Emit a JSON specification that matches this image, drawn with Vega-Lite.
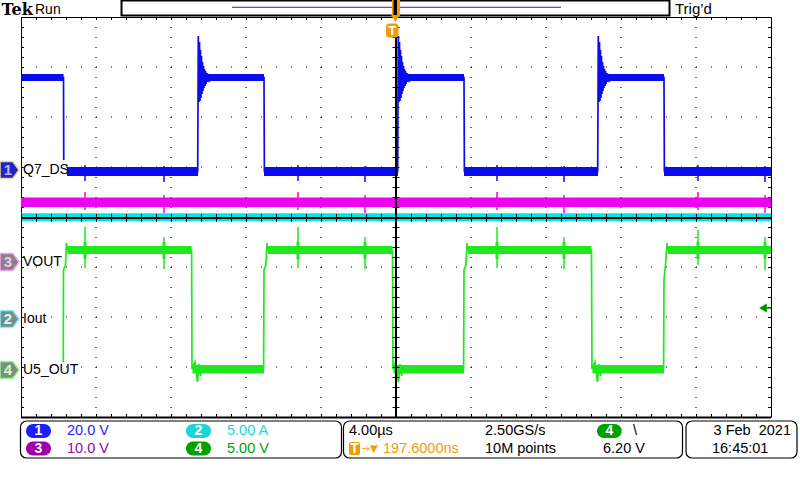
{
  "$schema": "https://vega.github.io/schema/vega-lite/v6.json",
  "width": 750,
  "height": 400,
  "autosize": {"type": "none"},
  "padding": {"left": 21, "top": 17, "right": 29, "bottom": 63},
  "background": "#ffffff",
  "config": {
    "view": {"stroke": "#000000", "strokeWidth": 1}
  },
  "layer": [
    {
      "data": {"values": [{"t": -16}, {"t": -12}, {"t": -8}, {"t": -4}, {"t": 4}, {"t": 8}, {"t": 12}, {"t": 16}]},
      "mark": {"type": "rule", "strokeWidth": 1.2, "strokeDash": [1, 9], "color": "#000000"},
      "encoding": {
        "x": {"field": "t", "type": "quantitative", "scale": {"domain": [-20, 20], "nice": false, "zero": false}, "axis": null},
        "y": {"datum": 4, "type": "quantitative", "scale": {"domain": [-4, 4], "nice": false, "zero": false}, "axis": null},
        "y2": {"datum": -4}
      }
    },
    {
      "data": {"values": [{"v": -3}, {"v": -2}, {"v": -1}, {"v": 1}, {"v": 2}, {"v": 3}]},
      "mark": {"type": "rule", "strokeWidth": 1.2, "strokeDash": [1, 14], "color": "#000000"},
      "encoding": {
        "x": {"datum": -20, "type": "quantitative", "axis": null},
        "x2": {"datum": 20},
        "y": {"field": "v", "type": "quantitative", "axis": null}
      }
    },
    {
      "data": {"values": [{"t": -20, "t2": 20, "v": 3.97}, {"t": -20, "t2": 20, "v": -3.97}]},
      "mark": {"type": "rule", "strokeWidth": 3, "strokeDash": [1, 14], "color": "#000000"},
      "encoding": {
        "x": {"field": "t", "type": "quantitative", "axis": null},
        "x2": {"field": "t2"},
        "y": {"field": "v", "type": "quantitative", "axis": null}
      }
    },
    {
      "data": {"values": [{"t": -19.92, "v": 4, "v2": -4}, {"t": 19.92, "v": 4, "v2": -4}]},
      "mark": {"type": "rule", "strokeWidth": 3, "strokeDash": [1, 9], "color": "#000000"},
      "encoding": {
        "x": {"field": "t", "type": "quantitative", "axis": null},
        "y": {"field": "v", "type": "quantitative", "axis": null},
        "y2": {"field": "v2"}
      }
    },
    {
      "data": {"values": [{"t": -20, "t2": 20, "v": -4.01}]},
      "mark": {"type": "rule", "strokeWidth": 2, "color": "#000000"},
      "encoding": {
        "x": {"field": "t", "type": "quantitative", "axis": null},
        "x2": {"field": "t2"},
        "y": {"field": "v", "type": "quantitative", "axis": null}
      }
    },
    {
      "data": {"values": [
        {"ch": "CH3", "t1": -20, "t2": 20, "lo": 0.2, "hi": 0.39},
        {"ch": "CH2", "t1": -20, "t2": 20, "lo": -0.08, "hi": 0.075},
        {"ch": "CH1", "t1": -20, "t2": -17.733, "lo": 2.72, "hi": 2.86},
        {"ch": "CH1", "t1": -10.1, "t2": -7.04, "lo": 2.72, "hi": 2.86},
        {"ch": "CH1", "t1": 0.6, "t2": 3.627, "lo": 2.72, "hi": 2.86},
        {"ch": "CH1", "t1": 11.25, "t2": 14.293, "lo": 2.72, "hi": 2.86},
        {"ch": "CH1", "t1": -17.547, "t2": -10.56, "lo": 0.82, "hi": 1.0},
        {"ch": "CH1", "t1": -7.04, "t2": 0.107, "lo": 0.82, "hi": 1.0},
        {"ch": "CH1", "t1": 3.627, "t2": 10.773, "lo": 0.82, "hi": 1.0},
        {"ch": "CH1", "t1": 14.293, "t2": 20, "lo": 0.82, "hi": 1.0},
        {"ch": "CH4", "t1": -17.52, "t2": -10.9, "lo": -0.74, "hi": -0.58},
        {"ch": "CH4", "t1": -6.827, "t2": -0.187, "lo": -0.74, "hi": -0.58},
        {"ch": "CH4", "t1": 3.84, "t2": 10.426, "lo": -0.74, "hi": -0.58},
        {"ch": "CH4", "t1": 14.5, "t2": 20, "lo": -0.74, "hi": -0.58},
        {"ch": "CH4", "t1": -10.853, "t2": -7.04, "lo": -3.13, "hi": -2.96},
        {"ch": "CH4", "t1": -0.133, "t2": 3.627, "lo": -3.13, "hi": -2.96},
        {"ch": "CH4", "t1": 10.48, "t2": 14.293, "lo": -3.13, "hi": -2.96},
        {"ch": "CH4", "t1": -16.667, "t2": -16.507, "lo": -0.84, "hi": -0.5},
        {"ch": "CH4", "t1": -12.453, "t2": -12.293, "lo": -0.84, "hi": -0.5},
        {"ch": "CH4", "t1": -5.307, "t2": -5.147, "lo": -0.84, "hi": -0.5},
        {"ch": "CH4", "t1": -1.733, "t2": -1.573, "lo": -0.84, "hi": -0.5},
        {"ch": "CH4", "t1": 5.307, "t2": 5.467, "lo": -0.84, "hi": -0.5},
        {"ch": "CH4", "t1": 8.88, "t2": 9.04, "lo": -0.84, "hi": -0.5},
        {"ch": "CH4", "t1": 16.027, "t2": 16.187, "lo": -0.84, "hi": -0.5},
        {"ch": "CH4", "t1": 19.6, "t2": 19.76, "lo": -0.84, "hi": -0.5}
      ]},
      "mark": {"type": "rect"},
      "encoding": {
        "x": {"field": "t1", "type": "quantitative", "axis": null},
        "x2": {"field": "t2"},
        "y": {"field": "lo", "type": "quantitative", "axis": null},
        "y2": {"field": "hi"},
        "color": {"field": "ch", "type": "nominal", "legend": null, "scale": {"domain": ["CH1", "CH2", "CH3", "CH4", "c1", "c2", "c3", "c4", "k", "o", "w", "lvl", "d1", "d2", "d3", "d4"], "range": ["#0b0bef", "#00e5e5", "#f000f0", "#1fe81f", "#1d1dff", "#1cd6d6", "#a000a8", "#00a000", "#000000", "#f59c00", "#ffffff", "#008800", "#b0b8f0", "#c8ffff", "#f0c8f0", "#c8ffc8"]}}
      }
    },
    {
      "data": {"values": [
        {"ch": "CH4", "t": -16.587, "lo": -1.02, "hi": -0.2},
        {"ch": "CH4", "t": -12.373, "lo": -1.04, "hi": -0.4},
        {"ch": "CH4", "t": -5.227, "lo": -1.02, "hi": -0.2},
        {"ch": "CH4", "t": -1.653, "lo": -1.04, "hi": -0.4},
        {"ch": "CH4", "t": 5.387, "lo": -1.02, "hi": -0.2},
        {"ch": "CH4", "t": 8.96, "lo": -1.04, "hi": -0.4},
        {"ch": "CH4", "t": 16.107, "lo": -0.96, "hi": -0.26},
        {"ch": "CH4", "t": 19.68, "lo": -1.06, "hi": -0.4},
        {"ch": "CH1", "t": -16.587, "lo": 0.72, "hi": 1.04},
        {"ch": "CH1", "t": -12.373, "lo": 0.7, "hi": 1.02},
        {"ch": "CH1", "t": -5.227, "lo": 0.72, "hi": 1.04},
        {"ch": "CH1", "t": -1.653, "lo": 0.7, "hi": 1.02},
        {"ch": "CH1", "t": 5.387, "lo": 0.72, "hi": 1.04},
        {"ch": "CH1", "t": 8.96, "lo": 0.7, "hi": 1.02},
        {"ch": "CH1", "t": 16.107, "lo": 0.72, "hi": 1.04},
        {"ch": "CH1", "t": 19.68, "lo": 0.7, "hi": 1.02},
        {"ch": "CH3", "t": -16.587, "lo": 0.14, "hi": 0.5},
        {"ch": "CH3", "t": -12.373, "lo": 0.08, "hi": 0.44},
        {"ch": "CH3", "t": -5.227, "lo": 0.14, "hi": 0.5},
        {"ch": "CH3", "t": -1.653, "lo": 0.08, "hi": 0.44},
        {"ch": "CH3", "t": 5.387, "lo": 0.14, "hi": 0.5},
        {"ch": "CH3", "t": 8.96, "lo": 0.08, "hi": 0.44},
        {"ch": "CH3", "t": 16.107, "lo": 0.14, "hi": 0.5},
        {"ch": "CH3", "t": 19.68, "lo": 0.08, "hi": 0.44}
      ]},
      "mark": {"type": "rule", "strokeWidth": 1.5},
      "encoding": {
        "x": {"field": "t", "type": "quantitative", "axis": null},
        "y": {"field": "lo", "type": "quantitative", "axis": null},
        "y2": {"field": "hi"},
        "color": {"field": "ch", "type": "nominal", "legend": null, "scale": {"domain": ["CH1", "CH2", "CH3", "CH4", "c1", "c2", "c3", "c4", "k", "o", "w", "lvl", "d1", "d2", "d3", "d4"], "range": ["#0b0bef", "#00e5e5", "#f000f0", "#1fe81f", "#1d1dff", "#1cd6d6", "#a000a8", "#00a000", "#000000", "#f59c00", "#ffffff", "#008800", "#b0b8f0", "#c8ffff", "#f0c8f0", "#c8ffc8"]}}
      }
    },
    {
      "data": {"values": [
        {"ch": "CH1", "seg": "b0", "t": -20, "v": 2.79},
        {"ch": "CH1", "seg": "b0", "t": -17.733, "v": 2.79},
        {"ch": "CH1", "seg": "b0", "t": -17.72, "v": 1.14},
        {"ch": "CH1", "seg": "b1", "t": -17.547, "v": 0.91},
        {"ch": "CH1", "seg": "b1", "t": -10.576, "v": 0.91},
        {"ch": "CH1", "seg": "b1", "t": -10.544, "v": 3.62},
        {"ch": "CH1", "seg": "b1", "t": -10.507, "v": 2.3},
        {"ch": "CH1", "seg": "b1", "t": -10.48, "v": 3.5},
        {"ch": "CH1", "seg": "b1", "t": -10.453, "v": 2.32},
        {"ch": "CH1", "seg": "b1", "t": -10.427, "v": 3.34},
        {"ch": "CH1", "seg": "b1", "t": -10.4, "v": 2.38},
        {"ch": "CH1", "seg": "b1", "t": -10.373, "v": 3.22},
        {"ch": "CH1", "seg": "b1", "t": -10.347, "v": 2.46},
        {"ch": "CH1", "seg": "b1", "t": -10.32, "v": 3.1},
        {"ch": "CH1", "seg": "b1", "t": -10.293, "v": 2.52},
        {"ch": "CH1", "seg": "b1", "t": -10.267, "v": 3.02},
        {"ch": "CH1", "seg": "b1", "t": -10.24, "v": 2.58},
        {"ch": "CH1", "seg": "b1", "t": -10.213, "v": 2.96},
        {"ch": "CH1", "seg": "b1", "t": -10.187, "v": 2.62},
        {"ch": "CH1", "seg": "b1", "t": -10.16, "v": 2.92},
        {"ch": "CH1", "seg": "b1", "t": -10.133, "v": 2.66},
        {"ch": "CH1", "seg": "b1", "t": -10.08, "v": 2.88},
        {"ch": "CH1", "seg": "b1", "t": -10.027, "v": 2.7},
        {"ch": "CH1", "seg": "b1", "t": -9.973, "v": 2.86},
        {"ch": "CH1", "seg": "b1", "t": -9.92, "v": 2.74},
        {"ch": "CH1", "seg": "b1", "t": -9.867, "v": 2.79},
        {"ch": "CH1", "seg": "b1", "t": -7.04, "v": 2.79},
        {"ch": "CH1", "seg": "b1", "t": -7.02, "v": 0.91},
        {"ch": "CH1", "seg": "b1", "t": 0.09, "v": 0.91},
        {"ch": "CH1", "seg": "b1", "t": 0.123, "v": 3.62},
        {"ch": "CH1", "seg": "b1", "t": 0.16, "v": 2.3},
        {"ch": "CH1", "seg": "b1", "t": 0.187, "v": 3.5},
        {"ch": "CH1", "seg": "b1", "t": 0.213, "v": 2.32},
        {"ch": "CH1", "seg": "b1", "t": 0.24, "v": 3.34},
        {"ch": "CH1", "seg": "b1", "t": 0.267, "v": 2.38},
        {"ch": "CH1", "seg": "b1", "t": 0.293, "v": 3.22},
        {"ch": "CH1", "seg": "b1", "t": 0.32, "v": 2.46},
        {"ch": "CH1", "seg": "b1", "t": 0.347, "v": 3.1},
        {"ch": "CH1", "seg": "b1", "t": 0.373, "v": 2.52},
        {"ch": "CH1", "seg": "b1", "t": 0.4, "v": 3.02},
        {"ch": "CH1", "seg": "b1", "t": 0.427, "v": 2.58},
        {"ch": "CH1", "seg": "b1", "t": 0.453, "v": 2.96},
        {"ch": "CH1", "seg": "b1", "t": 0.48, "v": 2.62},
        {"ch": "CH1", "seg": "b1", "t": 0.507, "v": 2.92},
        {"ch": "CH1", "seg": "b1", "t": 0.533, "v": 2.66},
        {"ch": "CH1", "seg": "b1", "t": 0.587, "v": 2.88},
        {"ch": "CH1", "seg": "b1", "t": 0.64, "v": 2.7},
        {"ch": "CH1", "seg": "b1", "t": 0.693, "v": 2.86},
        {"ch": "CH1", "seg": "b1", "t": 0.747, "v": 2.74},
        {"ch": "CH1", "seg": "b1", "t": 0.8, "v": 2.79},
        {"ch": "CH1", "seg": "b1", "t": 3.627, "v": 2.79},
        {"ch": "CH1", "seg": "b1", "t": 3.647, "v": 0.91},
        {"ch": "CH1", "seg": "b1", "t": 10.757, "v": 0.91},
        {"ch": "CH1", "seg": "b1", "t": 10.789, "v": 3.62},
        {"ch": "CH1", "seg": "b1", "t": 10.826, "v": 2.3},
        {"ch": "CH1", "seg": "b1", "t": 10.853, "v": 3.5},
        {"ch": "CH1", "seg": "b1", "t": 10.88, "v": 2.32},
        {"ch": "CH1", "seg": "b1", "t": 10.906, "v": 3.34},
        {"ch": "CH1", "seg": "b1", "t": 10.933, "v": 2.38},
        {"ch": "CH1", "seg": "b1", "t": 10.96, "v": 3.22},
        {"ch": "CH1", "seg": "b1", "t": 10.986, "v": 2.46},
        {"ch": "CH1", "seg": "b1", "t": 11.013, "v": 3.1},
        {"ch": "CH1", "seg": "b1", "t": 11.04, "v": 2.52},
        {"ch": "CH1", "seg": "b1", "t": 11.066, "v": 3.02},
        {"ch": "CH1", "seg": "b1", "t": 11.093, "v": 2.58},
        {"ch": "CH1", "seg": "b1", "t": 11.12, "v": 2.96},
        {"ch": "CH1", "seg": "b1", "t": 11.146, "v": 2.62},
        {"ch": "CH1", "seg": "b1", "t": 11.173, "v": 2.92},
        {"ch": "CH1", "seg": "b1", "t": 11.2, "v": 2.66},
        {"ch": "CH1", "seg": "b1", "t": 11.253, "v": 2.88},
        {"ch": "CH1", "seg": "b1", "t": 11.306, "v": 2.7},
        {"ch": "CH1", "seg": "b1", "t": 11.36, "v": 2.86},
        {"ch": "CH1", "seg": "b1", "t": 11.413, "v": 2.74},
        {"ch": "CH1", "seg": "b1", "t": 11.466, "v": 2.79},
        {"ch": "CH1", "seg": "b1", "t": 14.293, "v": 2.79},
        {"ch": "CH1", "seg": "b1", "t": 14.313, "v": 0.91},
        {"ch": "CH1", "seg": "b1", "t": 20, "v": 0.91},
        {"ch": "CH4", "seg": "g1", "t": -17.745, "v": -2.9},
        {"ch": "CH4", "seg": "g1", "t": -17.733, "v": -1.06},
        {"ch": "CH4", "seg": "g1", "t": -17.63, "v": -0.96},
        {"ch": "CH4", "seg": "g1", "t": -17.573, "v": -0.52},
        {"ch": "CH4", "seg": "g1", "t": -17.52, "v": -0.66},
        {"ch": "CH4", "seg": "g1", "t": -10.9, "v": -0.66},
        {"ch": "CH4", "seg": "g1", "t": -10.88, "v": -3.04},
        {"ch": "CH4", "seg": "g1", "t": -10.72, "v": -2.9},
        {"ch": "CH4", "seg": "g1", "t": -10.587, "v": -3.3},
        {"ch": "CH4", "seg": "g1", "t": -10.507, "v": -2.94},
        {"ch": "CH4", "seg": "g1", "t": -10.427, "v": -3.18},
        {"ch": "CH4", "seg": "g1", "t": -10.347, "v": -3.0},
        {"ch": "CH4", "seg": "g1", "t": -10.24, "v": -3.06},
        {"ch": "CH4", "seg": "g1", "t": -7.06, "v": -3.05},
        {"ch": "CH4", "seg": "g1", "t": -7.04, "v": -1.06},
        {"ch": "CH4", "seg": "g1", "t": -6.94, "v": -0.96},
        {"ch": "CH4", "seg": "g1", "t": -6.88, "v": -0.52},
        {"ch": "CH4", "seg": "g1", "t": -6.827, "v": -0.66},
        {"ch": "CH4", "seg": "g1", "t": -0.187, "v": -0.66},
        {"ch": "CH4", "seg": "g1", "t": -0.16, "v": -3.04},
        {"ch": "CH4", "seg": "g1", "t": -0.027, "v": -2.9},
        {"ch": "CH4", "seg": "g1", "t": 0.133, "v": -3.3},
        {"ch": "CH4", "seg": "g1", "t": 0.213, "v": -2.94},
        {"ch": "CH4", "seg": "g1", "t": 0.293, "v": -3.18},
        {"ch": "CH4", "seg": "g1", "t": 0.373, "v": -3.0},
        {"ch": "CH4", "seg": "g1", "t": 0.48, "v": -3.06},
        {"ch": "CH4", "seg": "g1", "t": 3.607, "v": -3.05},
        {"ch": "CH4", "seg": "g1", "t": 3.627, "v": -1.06},
        {"ch": "CH4", "seg": "g1", "t": 3.727, "v": -0.96},
        {"ch": "CH4", "seg": "g1", "t": 3.787, "v": -0.52},
        {"ch": "CH4", "seg": "g1", "t": 3.84, "v": -0.66},
        {"ch": "CH4", "seg": "g1", "t": 10.426, "v": -0.66},
        {"ch": "CH4", "seg": "g1", "t": 10.453, "v": -3.04},
        {"ch": "CH4", "seg": "g1", "t": 10.613, "v": -2.9},
        {"ch": "CH4", "seg": "g1", "t": 10.746, "v": -3.3},
        {"ch": "CH4", "seg": "g1", "t": 10.826, "v": -2.94},
        {"ch": "CH4", "seg": "g1", "t": 10.906, "v": -3.18},
        {"ch": "CH4", "seg": "g1", "t": 10.986, "v": -3.0},
        {"ch": "CH4", "seg": "g1", "t": 11.093, "v": -3.06},
        {"ch": "CH4", "seg": "g1", "t": 14.273, "v": -3.05},
        {"ch": "CH4", "seg": "g1", "t": 14.293, "v": -1.26},
        {"ch": "CH4", "seg": "g1", "t": 14.373, "v": -0.96},
        {"ch": "CH4", "seg": "g1", "t": 14.453, "v": -0.52},
        {"ch": "CH4", "seg": "g1", "t": 14.5, "v": -0.66},
        {"ch": "CH4", "seg": "g1", "t": 20, "v": -0.66}
      ]},
      "mark": {"type": "line", "strokeWidth": 1.7, "interpolate": "linear"},
      "encoding": {
        "x": {"field": "t", "type": "quantitative", "axis": null},
        "y": {"field": "v", "type": "quantitative", "axis": null},
        "detail": {"field": "seg", "type": "nominal"},
        "order": {"value": null},
        "color": {"field": "ch", "type": "nominal", "legend": null, "scale": {"domain": ["CH1", "CH2", "CH3", "CH4", "c1", "c2", "c3", "c4", "k", "o", "w", "lvl", "d1", "d2", "d3", "d4"], "range": ["#0b0bef", "#00e5e5", "#f000f0", "#1fe81f", "#1d1dff", "#1cd6d6", "#a000a8", "#00a000", "#000000", "#f59c00", "#ffffff", "#008800", "#b0b8f0", "#c8ffff", "#f0c8f0", "#c8ffc8"]}}
      }
    },
    {
      "data": {"values": [{"t": 0, "v": 3.6, "v2": -4}]},
      "mark": {"type": "rule", "strokeWidth": 2, "color": "#000000"},
      "encoding": {
        "x": {"field": "t", "type": "quantitative", "axis": null},
        "y": {"field": "v", "type": "quantitative", "axis": null},
        "y2": {"field": "v2"}
      }
    },
    {
      "data": {"values": [{"t": -20, "t2": 20, "v": -0.02}]},
      "mark": {"type": "rule", "strokeWidth": 2, "color": "#000000"},
      "encoding": {
        "x": {"field": "t", "type": "quantitative", "axis": null},
        "x2": {"field": "t2"},
        "y": {"field": "v", "type": "quantitative", "axis": null}
      }
    },
    {
      "data": {"values": [{"t": 0, "v": 4, "v2": -4}]},
      "mark": {"type": "rule", "strokeWidth": 7, "strokeDash": [1, 9], "color": "#000000"},
      "encoding": {
        "x": {"field": "t", "type": "quantitative", "axis": null},
        "y": {"field": "v", "type": "quantitative", "axis": null},
        "y2": {"field": "v2"}
      }
    },
    {
      "data": {"values": [{"t": -20, "t2": 20, "v": -0.02}]},
      "mark": {"type": "rule", "strokeWidth": 8, "strokeDash": [1, 14], "color": "#000000"},
      "encoding": {
        "x": {"field": "t", "type": "quantitative", "axis": null},
        "x2": {"field": "t2"},
        "y": {"field": "v", "type": "quantitative", "axis": null}
      }
    },
    {
      "data": {"values": [{"t": 19.6, "t2": 20, "v": -1.82}]},
      "mark": {"type": "rule", "strokeWidth": 1.5, "color": "#009000"},
      "encoding": {
        "x": {"field": "t", "type": "quantitative", "axis": null},
        "x2": {"field": "t2"},
        "y": {"field": "v", "type": "quantitative", "axis": null}
      }
    },
    {
      "data": {"values": [{"t": 19.57, "v": -1.82}]},
      "mark": {"type": "point", "shape": "triangle-left", "filled": true, "size": 80, "color": "#009000", "opacity": 1},
      "encoding": {
        "x": {"field": "t", "type": "quantitative", "axis": null},
        "y": {"field": "v", "type": "quantitative", "axis": null}
      }
    },
    {
      "data": {"values": [
        {"t": -19.893, "v": 0.94, "label": "Q7_DS"},
        {"t": -19.893, "v": -0.9, "label": "VOUT"},
        {"t": -19.893, "v": -2.04, "label": "Iout"},
        {"t": -19.893, "v": -3.06, "label": "U5_OUT"}
      ]},
      "mark": {"type": "text", "align": "left", "baseline": "middle", "font": "Liberation Sans, sans-serif", "fontSize": 14, "color": "#000000"},
      "encoding": {
        "x": {"field": "t", "type": "quantitative", "axis": null},
        "y": {"field": "v", "type": "quantitative", "axis": null},
        "text": {"field": "label"}
      }
    },
    {
      "data": {"values": [
        {"mk": "m1", "t": -20.613, "v": 0.94},
        {"mk": "m3", "t": -20.613, "v": -0.9},
        {"mk": "m2", "t": -20.613, "v": -2.04},
        {"mk": "m4", "t": -20.613, "v": -3.06}
      ]},
      "mark": {"type": "point", "shape": "M-1,-0.9L0.35,-0.9L1,0L0.35,0.9L-1,0.9Z", "filled": true, "size": 361, "strokeWidth": 1.5, "opacity": 1},
      "encoding": {
        "x": {"field": "t", "type": "quantitative", "axis": null},
        "y": {"field": "v", "type": "quantitative", "axis": null},
        "fill": {"field": "mk", "type": "nominal", "legend": null, "scale": {"domain": ["m1", "m2", "m3", "m4"], "range": ["#2222cc", "#7a8c8c", "#8a808a", "#7a907a"]}},
        "stroke": {"field": "mk", "type": "nominal", "legend": null, "scale": {"domain": ["m1", "m2", "m3", "m4"], "range": ["#e8dc90", "#88f0f0", "#f0a0f0", "#a0f0a0"]}}
      }
    },
    {
      "data": {"values": [
        {"ch": "d1", "t": -20.693, "v": 0.94, "num": "1"},
        {"ch": "d3", "t": -20.693, "v": -0.9, "num": "3"},
        {"ch": "d2", "t": -20.693, "v": -2.04, "num": "2"},
        {"ch": "d4", "t": -20.693, "v": -3.06, "num": "4"}
      ]},
      "mark": {"type": "text", "align": "center", "baseline": "middle", "font": "Liberation Sans, sans-serif", "fontSize": 15, "fontWeight": "bold"},
      "encoding": {
        "x": {"field": "t", "type": "quantitative", "axis": null},
        "y": {"field": "v", "type": "quantitative", "axis": null},
        "text": {"field": "num"},
        "color": {"field": "ch", "type": "nominal", "legend": null, "scale": {"domain": ["CH1", "CH2", "CH3", "CH4", "c1", "c2", "c3", "c4", "k", "o", "w", "lvl", "d1", "d2", "d3", "d4"], "range": ["#0b0bef", "#00e5e5", "#f000f0", "#1fe81f", "#1d1dff", "#1cd6d6", "#a000a8", "#00a000", "#000000", "#f59c00", "#ffffff", "#008800", "#b0b8f0", "#c8ffff", "#f0c8f0", "#c8ffc8"]}}
      }
    },
    {
      "data": {"values": [{"t": -21.04, "v": 4.04, "label": "Tek"}]},
      "mark": {"type": "text", "align": "left", "baseline": "alphabetic", "font": "DejaVu Serif, serif", "fontSize": 16, "fontWeight": "bold", "color": "#000000"},
      "encoding": {
        "x": {"field": "t", "type": "quantitative", "axis": null},
        "y": {"field": "v", "type": "quantitative", "axis": null},
        "text": {"field": "label"}
      }
    },
    {
      "data": {"values": [{"t": -19.253, "v": 4.06, "label": "Run"}]},
      "mark": {"type": "text", "align": "left", "baseline": "alphabetic", "font": "Liberation Sans, sans-serif", "fontSize": 14, "color": "#000000"},
      "encoding": {
        "x": {"field": "t", "type": "quantitative", "axis": null},
        "y": {"field": "v", "type": "quantitative", "axis": null},
        "text": {"field": "label"}
      }
    },
    {
      "data": {"values": [{"t": 14.88, "v": 4.06, "label": "Trig’d"}]},
      "mark": {"type": "text", "align": "left", "baseline": "alphabetic", "font": "Liberation Sans, sans-serif", "fontSize": 15, "color": "#000000"},
      "encoding": {
        "x": {"field": "t", "type": "quantitative", "axis": null},
        "y": {"field": "v", "type": "quantitative", "axis": null},
        "text": {"field": "label"}
      }
    },
    {
      "data": {"values": [{"t1": -14.64, "t2": 14.587, "v1": 4.33, "v2": 4.03}]},
      "mark": {"type": "rect", "fill": "#ffffff", "stroke": "#000000", "strokeWidth": 2},
      "encoding": {
        "x": {"field": "t1", "type": "quantitative", "axis": null},
        "x2": {"field": "t2"},
        "y": {"field": "v1", "type": "quantitative", "axis": null},
        "y2": {"field": "v2"}
      }
    },
    {
      "data": {"values": [{"t": -8.747, "t2": 8.8, "v": 4.195}]},
      "mark": {"type": "rule", "strokeWidth": 1, "color": "#1a1aee"},
      "encoding": {
        "x": {"field": "t", "type": "quantitative", "axis": null},
        "x2": {"field": "t2"},
        "y": {"field": "v", "type": "quantitative", "axis": null}
      }
    },
    {
      "data": {"values": [
        {"ch": "o", "t1": -0.213, "t2": 0.213, "v1": 4.36, "v2": 4.02},
        {"ch": "k", "t1": -0.133, "t2": 0.053, "v1": 4.36, "v2": 4.04}
      ]},
      "mark": {"type": "rect"},
      "encoding": {
        "x": {"field": "t1", "type": "quantitative", "axis": null},
        "x2": {"field": "t2"},
        "y": {"field": "v1", "type": "quantitative", "axis": null},
        "y2": {"field": "v2"},
        "color": {"field": "ch", "type": "nominal", "legend": null, "scale": {"domain": ["CH1", "CH2", "CH3", "CH4", "c1", "c2", "c3", "c4", "k", "o", "w", "lvl", "d1", "d2", "d3", "d4"], "range": ["#0b0bef", "#00e5e5", "#f000f0", "#1fe81f", "#1d1dff", "#1cd6d6", "#a000a8", "#00a000", "#000000", "#f59c00", "#ffffff", "#008800", "#b0b8f0", "#c8ffff", "#f0c8f0", "#c8ffc8"]}}
      }
    },
    {
      "data": {"values": [{"t": -0.04, "v": 3.97}]},
      "mark": {"type": "point", "shape": "triangle-down", "filled": true, "size": 70, "color": "#f59c00", "opacity": 1},
      "encoding": {
        "x": {"field": "t", "type": "quantitative", "axis": null},
        "y": {"field": "v", "type": "quantitative", "axis": null}
      }
    },
    {
      "data": {"values": [{"t1": -0.533, "t2": 0.133, "v1": 3.87, "v2": 3.59}]},
      "mark": {"type": "rect", "cornerRadius": 3, "color": "#f59c00"},
      "encoding": {
        "x": {"field": "t1", "type": "quantitative", "axis": null},
        "x2": {"field": "t2"},
        "y": {"field": "v1", "type": "quantitative", "axis": null},
        "y2": {"field": "v2"}
      }
    },
    {
      "data": {"values": [{"t": -0.2, "v": 3.72, "label": "T"}]},
      "mark": {"type": "text", "align": "center", "baseline": "middle", "font": "Liberation Sans, sans-serif", "fontSize": 13, "fontWeight": "bold", "color": "#ffffff"},
      "encoding": {
        "x": {"field": "t", "type": "quantitative", "axis": null},
        "y": {"field": "v", "type": "quantitative", "axis": null},
        "text": {"field": "label"}
      }
    },
    {
      "data": {"values": [
        {"t1": -20.027, "t2": -2.907, "v1": -4.08, "v2": -4.82},
        {"t1": -2.8, "t2": 15.28, "v1": -4.08, "v2": -4.82},
        {"t1": 15.467, "t2": 21.387, "v1": -4.08, "v2": -4.82}
      ]},
      "mark": {"type": "rect", "fill": "#ffffff", "stroke": "#000000", "strokeWidth": 1.2, "cornerRadius": 6},
      "encoding": {
        "x": {"field": "t1", "type": "quantitative", "axis": null},
        "x2": {"field": "t2"},
        "y": {"field": "v1", "type": "quantitative", "axis": null},
        "y2": {"field": "v2"}
      }
    },
    {
      "data": {"values": [
        {"ch": "c1", "t1": -19.733, "t2": -18.4, "v1": -4.14, "v2": -4.42},
        {"ch": "c2", "t1": -11.2, "t2": -9.867, "v1": -4.14, "v2": -4.42},
        {"ch": "c3", "t1": -19.733, "t2": -18.4, "v1": -4.49, "v2": -4.77},
        {"ch": "c4", "t1": -11.2, "t2": -9.867, "v1": -4.49, "v2": -4.77},
        {"ch": "c4", "t1": 10.72, "t2": 12.037, "v1": -4.14, "v2": -4.42}
      ]},
      "mark": {"type": "rect", "cornerRadius": 7},
      "encoding": {
        "x": {"field": "t1", "type": "quantitative", "axis": null},
        "x2": {"field": "t2"},
        "y": {"field": "v1", "type": "quantitative", "axis": null},
        "y2": {"field": "v2"},
        "color": {"field": "ch", "type": "nominal", "legend": null, "scale": {"domain": ["CH1", "CH2", "CH3", "CH4", "c1", "c2", "c3", "c4", "k", "o", "w", "lvl", "d1", "d2", "d3", "d4"], "range": ["#0b0bef", "#00e5e5", "#f000f0", "#1fe81f", "#1d1dff", "#1cd6d6", "#a000a8", "#00a000", "#000000", "#f59c00", "#ffffff", "#008800", "#b0b8f0", "#c8ffff", "#f0c8f0", "#c8ffc8"]}}
      }
    },
    {
      "data": {"values": [{"t1": -2.507, "t2": -1.92, "v1": -4.5, "v2": -4.76}]},
      "mark": {"type": "rect", "cornerRadius": 2, "color": "#f59c00"},
      "encoding": {
        "x": {"field": "t1", "type": "quantitative", "axis": null},
        "x2": {"field": "t2"},
        "y": {"field": "v1", "type": "quantitative", "axis": null},
        "y2": {"field": "v2"}
      }
    },
    {
      "data": {"values": [
        {"t": -19.067, "v": -4.28, "num": "1"},
        {"t": -10.533, "v": -4.28, "num": "2"},
        {"t": -19.067, "v": -4.63, "num": "3"},
        {"t": -10.533, "v": -4.63, "num": "4"},
        {"t": 11.378, "v": -4.28, "num": "4"},
        {"t": -2.213, "v": -4.63, "num": "T"}
      ]},
      "mark": {"type": "text", "align": "center", "baseline": "middle", "font": "Liberation Sans, sans-serif", "fontSize": 14, "fontWeight": "bold", "color": "#ffffff"},
      "encoding": {
        "x": {"field": "t", "type": "quantitative", "axis": null},
        "y": {"field": "v", "type": "quantitative", "axis": null},
        "text": {"field": "num"}
      }
    },
    {
      "data": {"values": [{"t": -1.84, "v": -4.63, "label": "→▼"}]},
      "mark": {"type": "text", "align": "left", "baseline": "middle", "font": "DejaVu Sans, sans-serif", "fontSize": 10, "color": "#f59c00"},
      "encoding": {
        "x": {"field": "t", "type": "quantitative", "axis": null},
        "y": {"field": "v", "type": "quantitative", "axis": null},
        "text": {"field": "label"}
      }
    },
    {
      "data": {"values": [
        {"ch": "c1", "t": -17.547, "v": -4.28, "label": "20.0 V"},
        {"ch": "c2", "t": -9.013, "v": -4.28, "label": "5.00 A"},
        {"ch": "c3", "t": -17.547, "v": -4.63, "label": "10.0 V"},
        {"ch": "c4", "t": -9.013, "v": -4.63, "label": "5.00 V"},
        {"ch": "k", "t": -2.507, "v": -4.28, "label": "4.00µs"},
        {"ch": "o", "t": -0.693, "v": -4.63, "label": "197.6000ns"},
        {"ch": "k", "t": 4.747, "v": -4.28, "label": "2.50GS/s"},
        {"ch": "k", "t": 4.747, "v": -4.63, "label": "10M points"},
        {"ch": "k", "t": 12.64, "v": -4.28, "label": "\\"},
        {"ch": "k", "t": 11.04, "v": -4.63, "label": "6.20 V"},
        {"ch": "k", "t": 16.853, "v": -4.63, "label": "16:45:01"}
      ]},
      "mark": {"type": "text", "align": "left", "baseline": "middle", "font": "Liberation Sans, sans-serif", "fontSize": 14.5},
      "encoding": {
        "x": {"field": "t", "type": "quantitative", "axis": null},
        "y": {"field": "v", "type": "quantitative", "axis": null},
        "text": {"field": "label"},
        "color": {"field": "ch", "type": "nominal", "legend": null, "scale": {"domain": ["CH1", "CH2", "CH3", "CH4", "c1", "c2", "c3", "c4", "k", "o", "w", "lvl", "d1", "d2", "d3", "d4"], "range": ["#0b0bef", "#00e5e5", "#f000f0", "#1fe81f", "#1d1dff", "#1cd6d6", "#a000a8", "#00a000", "#000000", "#f59c00", "#ffffff", "#008800", "#b0b8f0", "#c8ffff", "#f0c8f0", "#c8ffc8"]}}
      }
    },
    {
      "data": {"values": [{"t": 21.067, "v": -4.28, "label": "3 Feb\u00a0\u00a02021"}]},
      "mark": {"type": "text", "align": "right", "baseline": "middle", "font": "Liberation Sans, sans-serif", "fontSize": 14.5, "color": "#000000"},
      "encoding": {
        "x": {"field": "t", "type": "quantitative", "axis": null},
        "y": {"field": "v", "type": "quantitative", "axis": null},
        "text": {"field": "label"}
      }
    }
  ]
}
